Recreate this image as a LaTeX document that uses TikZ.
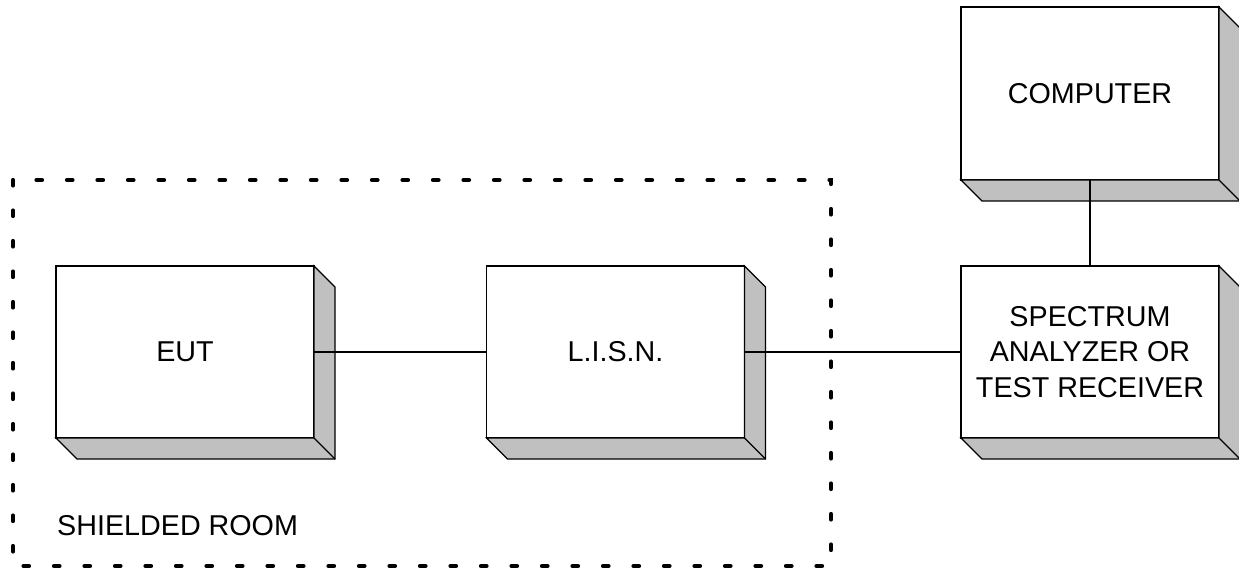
\documentclass[tikz,border=0pt]{standalone}
\usepackage{fontspec}
\setmainfont{Liberation Sans}
\definecolor{shadegray}{HTML}{C0C0C0}
\tikzset{
  unitbox/.style={draw=black, line width=1.3pt, fill=white, outer sep=0pt, inner sep=0pt,
    minimum width=258pt, minimum height=172pt, align=center,
    font=\fontsize{28.7}{35.5}\selectfont},
  shadeface/.style={draw=black, line width=1.3pt, fill=shadegray, line join=miter},
  wire/.style={draw=black, line width=1.3pt},
  roomborder/.style={draw=black, line width=4.2pt, line cap=round, dash pattern=on 5.5pt off 25pt},
  roomlabel/.style={font=\fontsize{28.7}{33}\selectfont, anchor=base west, inner sep=0pt}
}
\newcommand\boxshade[1]{%
  \draw[shadeface] (#1.north east) -- ([shift={(21,21)}]#1.north east)
    -- ([shift={(21,21)}]#1.south east) -- ([shift={(21,21)}]#1.south west)
    -- (#1.south west) -- (#1.south east) -- cycle;
  \draw[shadeface] (#1.south east) -- ([shift={(21,21)}]#1.south east);
}
\begin{document}
\begin{tikzpicture}[x=1pt, y=-1pt]
\useasboundingbox (0,0) rectangle (1239,572);
% shielded room
\coordinate (roomnw) at (13,180);
\coordinate (roomse) at (831,566);
\draw[roomborder] (roomnw) rectangle (roomse);
\node[roomlabel] (roomtxt) at (57,535) {SHIELDED ROOM};
% boxes
\node[unitbox] (eut) at (185,352) {EUT};
\boxshade{eut}
\node[unitbox] (lisn) at (615.5,352) {L.I.S.N.};
\boxshade{lisn}
\node[unitbox, minimum height=173pt] (comp) at (1090,93.5) {COMPUTER};
\boxshade{comp}
\node[unitbox] (spec) at (1090,352) {SPECTRUM\\ANALYZER OR\\TEST RECEIVER};
\boxshade{spec}
% connectors
\draw[wire] (eut.east) -- (lisn.west);
\draw[wire] (lisn.east) -- (spec.west);
\draw[wire] (comp.south) -- (spec.north);
\end{tikzpicture}
\end{document}
